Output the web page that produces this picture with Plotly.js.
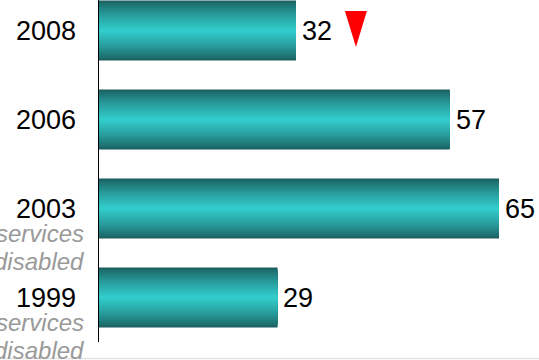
<!DOCTYPE html>
<html>
<head>
<meta charset="utf-8">
<script src="https://cdn.plot.ly/plotly-3.0.1.min.js"></script>
<style>html,body{margin:0;padding:0;background:#fff;}#chart{width:539px;height:360px;}</style>
</head>
<body>
<div id="chart"></div>
<script>
// ---- data ----
const years = ['2008', '2006', '2003', '1999'];
const values = [32, 57, 65, 29];
const notes = ['', '', 'services<br>disabled', 'services<br>disabled'];
const trendDown = ['2008'];

// ---- styling ----
const dark = [26, 94, 94];
const bright = [51, 204, 204];
const layersN = 24;
const barWidth = 0.674;
const FONT = 'Liberation Sans, Arial, sans-serif';

function mix(a, b, t) {
  return 'rgb(' + a.map((v, i) => Math.round(v + (b[i] - v) * t)).join(',') + ')';
}

const traces = [];
for (let k = 0; k < layersN; k++) {
  const t = Math.pow(k / (layersN - 1), 0.8);
  traces.push({
    type: 'bar',
    orientation: 'h',
    y: years,
    x: values,
    width: barWidth * (layersN - k) / layersN,
    marker: { color: mix(dark, bright, t), line: { width: 0 } },
    hoverinfo: 'skip',
    showlegend: false
  });
}

const annotations = [];
years.forEach((y, i) => {
  annotations.push({
    xref: 'x', yref: 'y',
    x: values[i], y: i,
    xanchor: 'left', yanchor: 'middle',
    xshift: 4, yshift: 0,
    text: String(values[i]),
    showarrow: false,
    font: { family: FONT, size: 27, color: '#000' }
  });
  if (notes[i]) {
    notes[i].split('<br>').forEach((line, j) => {
      annotations.push({
        xref: 'paper', yref: 'y',
        x: -13 / 440, y: i,
        xanchor: 'right', yanchor: 'top',
        yshift: -9 - 28 * j,
        text: '<i>' + line + '</i>',
        showarrow: false, align: 'right',
        font: { family: FONT, size: 24, color: '#999999' }
      });
    });
  }
});

const shapes = [];
years.forEach((y, i) => {
  if (trendDown.indexOf(y) >= 0) {
    shapes.push({
      type: 'path', xref: 'x', yref: 'y',
      xsizemode: 'pixel', ysizemode: 'pixel',
      xanchor: values[i], yanchor: i,
      path: 'M 49 19.5 L 71 19.5 L 60 -16.5 Z',
      fillcolor: '#ff0000', line: { width: 0 }
    });
  }
});
shapes.push({
  type: 'line', xref: 'paper', yref: 'paper',
  x0: -99 / 440, x1: 1, y0: -16.5 / 342, y1: -16.5 / 342,
  line: { color: '#e4e4e4', width: 1.5 }
});

const layout = {
  width: 539, height: 360,
  margin: { l: 99, r: 0, t: 0, b: 18, pad: 0 },
  paper_bgcolor: '#fff', plot_bgcolor: '#fff',
  barmode: 'overlay',
  showlegend: false,
  xaxis: { range: [0, 71.5], visible: false, fixedrange: true },
  yaxis: {
    type: 'category',
    categoryorder: 'array', categoryarray: years,
    range: [3.5, -0.343],
    showline: true, linecolor: '#000', linewidth: 1.5,
    showgrid: false, zeroline: false,
    ticks: '', ticklabelstandoff: 16,
    tickfont: { family: FONT, size: 27, color: '#000' },
    fixedrange: true
  },
  annotations: annotations,
  shapes: shapes
};

Plotly.newPlot('chart', traces, layout, { displayModeBar: false, staticPlot: true });
</script>
</body>
</html>
